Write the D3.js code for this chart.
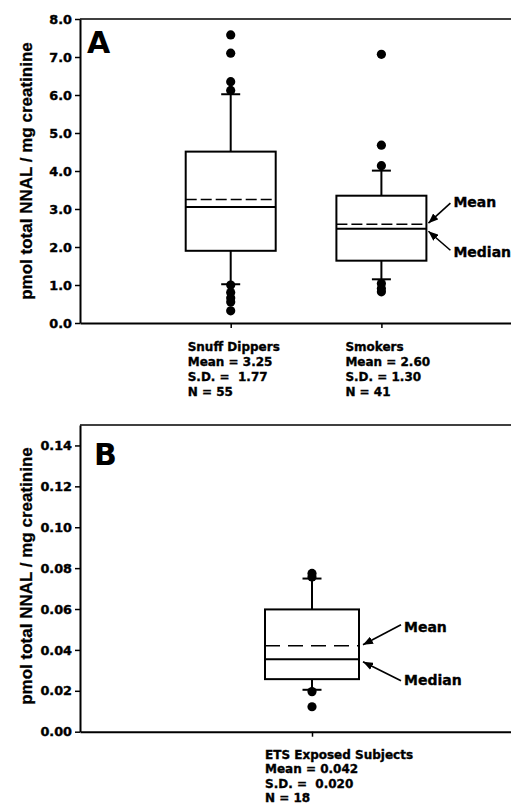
<!DOCTYPE html>
<html>
<head>
<meta charset="utf-8">
<script src="https://cdn.jsdelivr.net/npm/d3@7"></script>
<style>
  html, body { margin: 0; background: #fff; overflow: hidden; }
  svg { display: block; }
  text { fill: #000; }
</style>
</head>
<body>
<svg id="chart" width="511" height="812"></svg>
<script>
// panel A - snuff dippers and smokers
var groupsA = ["Snuff Dippers", "Smokers"];
var q1A = [1.90, 1.64];
var medianA = [3.05, 2.48];
var meanA = [3.25, 2.60];
var q3A = [4.51, 3.35];
var whiskLoA = [1.02, 1.15];
var whiskHiA = [6.02, 4.01];
var outliersA = [
  [7.58, 7.10, 6.35, 6.12, 1.00, 0.80, 0.66, 0.55, 0.32],
  [7.07, 4.68, 4.14, 1.04, 0.91, 0.82]
];
var statsA = [
  ["Mean = 3.25", "S.D. =  1.77", "N = 55"],
  ["Mean = 2.60", "S.D. = 1.30", "N = 41"]
];
var ticksA = [0, 1, 2, 3, 4, 5, 6, 7, 8];

// panel B - ETS exposed nonsmokers
var groupsB = ["ETS Exposed Subjects"];
var q1B = [0.0257];
var medianB = [0.0354];
var meanB = [0.042];
var q3B = [0.0598];
var whiskLoB = [0.0205];
var whiskHiB = [0.0749];
var outliersB = [[0.0774, 0.0757, 0.0196, 0.0122]];
var statsB = [["Mean = 0.042", "S.D. =  0.020", "N = 18"]];
var ticksB = [0, 0.02, 0.04, 0.06, 0.08, 0.10, 0.12, 0.14];

var svg = d3.select("#chart");

var marker = svg.append("defs").append("marker")
    .attr("id", "arrow")
    .attr("markerUnits", "userSpaceOnUse")
    .attr("markerWidth", 10).attr("markerHeight", 8)
    .attr("refX", 10).attr("refY", 4)
    .attr("orient", "auto");
marker.append("path").attr("d", "M0,0L10,4L0,8z").attr("fill", "#000");

var tickFont = "'DejaVu Sans', sans-serif";
var titleFont = "'Liberation Sans', Arial, sans-serif";

// scanned print looks heavier than plain bold
function heavy(sel, w) {
  sel.attr("stroke", "#000").attr("stroke-width", w).attr("paint-order", "stroke");
}

function drawPanel(p) {
  var y = d3.scaleLinear().domain(p.yDomain).range([p.bottom, p.top]);
  var x = d3.scaleLinear().domain([0, p.slots]).range([80, 80 + p.slotW * p.slots]);
  var g = svg.append("g");
  var idx = p.groups.map(function(d, i) { return i; });

  // frame top
  g.append("line")
    .attr("x1", 80).attr("x2", 511)
    .attr("y1", y(p.yDomain[1])).attr("y2", y(p.yDomain[1]))
    .attr("stroke", "#000").attr("stroke-width", 1.5);

  var yAxis = g.append("g")
    .attr("transform", "translate(80,0)")
    .call(d3.axisLeft(y).tickValues(p.ticks).tickFormat(d3.format(p.fmt))
      .tickSize(5).tickPadding(3).tickSizeOuter(0));
  yAxis.select(".domain").attr("stroke-width", 2);
  yAxis.selectAll(".tick line").attr("stroke-width", 1.5);
  var tt = yAxis.selectAll(".tick text")
    .attr("font-family", tickFont).attr("font-weight", "bold")
    .attr("font-size", 12.8).attr("fill", "#000");
  heavy(tt, 0.4);

  var xAxis = g.append("g")
    .attr("transform", "translate(0," + p.bottom + ")")
    .call(d3.axisBottom(x).tickValues(idx.map(function(i) { return i + 1; }))
      .tickFormat("").tickSize(5).tickSizeOuter(0));
  xAxis.select(".domain").attr("stroke-width", 2);
  xAxis.selectAll(".tick line").attr("stroke-width", 1.5);

  // y title
  heavy(g.append("text")
    .attr("transform", "translate(32," + p.titleY + ") rotate(-90)")
    .attr("text-anchor", "middle")
    .attr("font-family", titleFont).attr("font-weight", "bold").attr("font-size", 17)
    .text("pmol total NNAL / mg creatinine"), 0.3);

  // panel letter
  g.append("text")
    .attr("x", p.letterX).attr("y", p.letterY)
    .attr("font-family", tickFont).attr("font-weight", "bold").attr("font-size", 30)
    .text(p.letter);

  var hw = p.boxW / 2;
  var box = g.selectAll(".grp").data(idx).enter().append("g").attr("class", "grp");

  // whiskers
  box.append("line")
    .attr("x1", function(i) { return x(i + 1); }).attr("x2", function(i) { return x(i + 1); })
    .attr("y1", function(i) { return y(p.q3[i]); }).attr("y2", function(i) { return y(p.whiskHi[i]); })
    .attr("stroke", "#000").attr("stroke-width", 2);
  box.append("line")
    .attr("x1", function(i) { return x(i + 1); }).attr("x2", function(i) { return x(i + 1); })
    .attr("y1", function(i) { return y(p.q1[i]); }).attr("y2", function(i) { return y(p.whiskLo[i]); })
    .attr("stroke", "#000").attr("stroke-width", 2);
  [p.whiskHi, p.whiskLo].forEach(function(arr) {
    box.append("line")
      .attr("x1", function(i) { return x(i + 1) - 9.5; }).attr("x2", function(i) { return x(i + 1) + 9.5; })
      .attr("y1", function(i) { return y(arr[i]); }).attr("y2", function(i) { return y(arr[i]); })
      .attr("stroke", "#000").attr("stroke-width", 2);
  });

  box.append("rect")
    .attr("x", function(i) { return x(i + 1) - hw; })
    .attr("y", function(i) { return y(p.q3[i]); })
    .attr("width", p.boxW)
    .attr("height", function(i) { return y(p.q1[i]) - y(p.q3[i]); })
    .attr("fill", "none").attr("stroke", "#000").attr("stroke-width", 2);

  box.append("line")
    .attr("x1", function(i) { return x(i + 1) - hw; }).attr("x2", function(i) { return x(i + 1) + hw; })
    .attr("y1", function(i) { return y(p.median[i]); }).attr("y2", function(i) { return y(p.median[i]); })
    .attr("stroke", "#000").attr("stroke-width", 2);
  box.append("line")
    .attr("x1", function(i) { return x(i + 1) - hw; }).attr("x2", function(i) { return x(i + 1) + hw; })
    .attr("y1", function(i) { return y(p.mean[i]); }).attr("y2", function(i) { return y(p.mean[i]); })
    .attr("stroke", "#000").attr("stroke-width", 1.6)
    .attr("stroke-dasharray", p.dash);

  box.selectAll("circle")
    .data(function(i) { return p.outliers[i].map(function(v) { return {i: i, v: v}; }); })
    .enter().append("circle")
    .attr("cx", function(d) { return x(d.i + 1); })
    .attr("cy", function(d) { return y(d.v); })
    .attr("r", 4.6).attr("fill", "#000");

  // group labels under the axis
  var lab = box.append("text")
    .attr("font-family", tickFont).attr("font-weight", "bold").attr("font-size", 12)
    .style("white-space", "pre");
  heavy(lab, 0.35);
  lab.selectAll("tspan")
    .data(function(i) { return [p.groups[i]].concat(p.stats[i]).map(function(t) { return {i: i, t: t}; }); })
    .enter().append("tspan")
    .attr("x", function(d) { return x(d.i + 1) - hw + p.labelShift[d.i]; })
    .attr("y", function(d, k) { return p.labelY + k * p.labelStep; })
    .text(function(d) { return d.t; });

  // mean / median pointers on last group
  var last = idx.length - 1;
  var tipX = x(last + 1) + hw + p.tipGap;
  var pts = [
    {name: "Mean", ty: y(p.mean[last]) - 1, dy: -20, base: y(p.mean[last]) - p.meanTextUp},
    {name: "Median", ty: y(p.median[last]) + 2.5, dy: 19, base: y(p.median[last]) + p.medianTextDown}
  ];
  pts.forEach(function(a) {
    g.append("line")
      .attr("x1", tipX + p.tailDx).attr("y1", a.ty + a.dy)
      .attr("x2", tipX).attr("y2", a.ty)
      .attr("stroke", "#000").attr("stroke-width", 1.6)
      .attr("marker-end", "url(#arrow)");
    heavy(g.append("text")
      .attr("x", tipX + p.tailDx + 3).attr("y", a.base)
      .attr("font-family", tickFont).attr("font-weight", "bold").attr("font-size", 14)
      .text(a.name), 0.35);
  });
}

drawPanel({
  yDomain: [0, 8], top: 19, bottom: 323, ticks: ticksA, fmt: ".1f",
  slots: 3, slotW: 150.7, boxW: 90, dash: "11,4",
  groups: groupsA, q1: q1A, median: medianA, mean: meanA, q3: q3A,
  whiskLo: whiskLoA, whiskHi: whiskHiA, outliers: outliersA, stats: statsA,
  titleY: 171, letter: "A", letterX: 87, letterY: 53,
  labelShift: [2, 9], labelY: 350.5, labelStep: 15,
  tipGap: 2, tailDx: 22, meanTextUp: 17, medianTextDown: 28
});

drawPanel({
  yDomain: [0, 0.15], top: 425, bottom: 731.7, ticks: ticksB, fmt: ".2f",
  slots: 2, slotW: 232, boxW: 94, dash: "15,8",
  groups: groupsB, q1: q1B, median: medianB, mean: meanB, q3: q3B,
  whiskLo: whiskLoB, whiskHi: whiskHiB, outliers: outliersB, stats: statsB,
  titleY: 576, letter: "B", letterX: 94, letterY: 465,
  labelShift: [0], labelY: 759, labelStep: 14.3,
  tipGap: 4, tailDx: 38, meanTextUp: 14, medianTextDown: 26
});
</script>
</body>
</html>
